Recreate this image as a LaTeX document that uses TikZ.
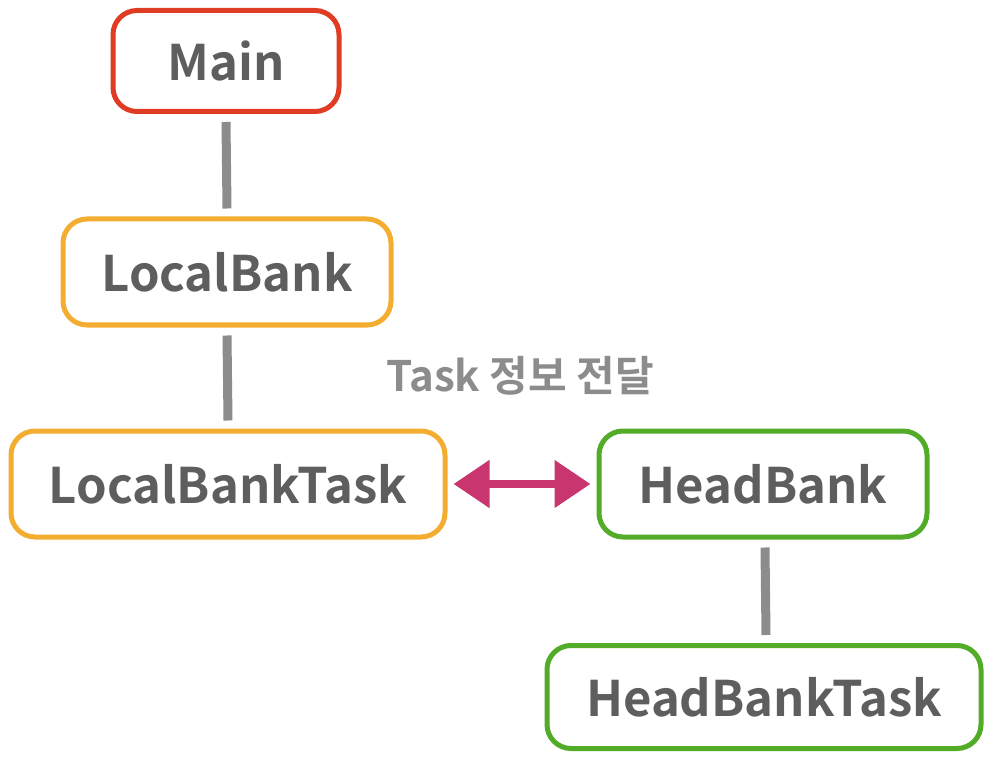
\documentclass[tikz,border=0pt]{standalone}
\usepackage{fontspec}
\setmainfont{Noto Sans CJK KR}[BoldFont={* Bold}]
\usetikzlibrary{arrows.meta}
\definecolor{cred}{HTML}{E03C24}
\definecolor{corange}{HTML}{F3AE32}
\definecolor{cgreen}{HTML}{52AC28}
\definecolor{ctext}{HTML}{5E5E5E}
\definecolor{cgray}{HTML}{8C8C8C}
\definecolor{cmag}{HTML}{C8356F}
\tikzset{
  box/.style={draw, line width=5pt, rounded corners=24pt, fill=white, text=ctext,
    font=\fontsize{49}{52}\selectfont\bfseries, inner sep=0pt, align=center},
  link/.style={draw=cgray, line width=9pt},
  biarrow/.style={draw=cmag, line width=8pt, {Triangle[length=36pt,width=46pt]}-{Triangle[length=36pt,width=46pt]}},
}
\begin{document}
\begin{tikzpicture}[x=1pt,y=-1pt]
\useasboundingbox (0,0) rectangle (994,762);
\node[box, draw=cred, minimum width=226pt, minimum height=101pt] (main) at (226,61) {Main};
\node[box, draw=corange, minimum width=328pt, minimum height=106pt] (lb) at (227,272) {LocalBank};
\node[box, draw=corange, minimum width=434pt, minimum height=106pt] (lbt) at (228,484) {LocalBankTask};
\node[box, draw=cgreen, minimum width=328pt, minimum height=106pt] (hb) at (763,484) {HeadBank};
\node[box, draw=cgreen, minimum width=434pt, minimum height=103pt] (hbt) at (764,697) {HeadBankTask};
\node[text=cgray, font=\fontsize{42}{46}\selectfont\bfseries] (lbl) at (520,376) {Task 정보 전달};
\draw[link] ([yshift=-8pt]main.south) -- ([yshift=8pt]lb.north);
\draw[link] ([yshift=-8pt]lb.south) -- ([yshift=8pt]lbt.north);
\draw[link] ([xshift=2pt,yshift=-8pt]hb.south) -- ([xshift=2pt,yshift=8pt]hbt.north);
\draw[biarrow] ([xshift=6pt]lbt.east) -- ([xshift=-6pt]hb.west);
\end{tikzpicture}
\end{document}
